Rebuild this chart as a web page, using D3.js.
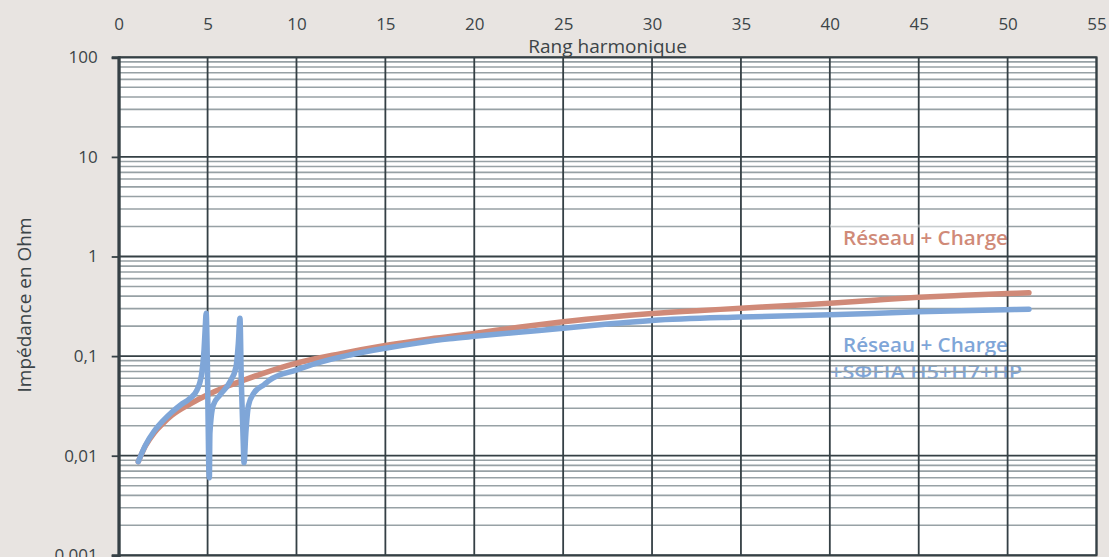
<!DOCTYPE html>
<html><head><meta charset="utf-8">
<script src="https://cdn.jsdelivr.net/npm/d3@7"></script>
<style>
body{margin:0;background:#e8e4e1;}
svg{display:block;}
text{font-family:"Open Sans",sans-serif;}
</style></head>
<body><svg id="c" width="1109" height="557"></svg>
<script>
// ---- data ----
const xTicks = [0,5,10,15,20,25,30,35,40,45,50,55];
const yTicks = [0.001,0.01,0.1,1,10,100];
const yTickLabels = ["0,001","0,01","0,1","1","10","100"];
const xTitle = "Rang harmonique";
const yTitle = "Impédance en Ohm";

// Réseau + Charge
const reseauH = [1.1,1.5,2,2.5,3,4,5,6,7,8,10,12.5,15,17.5,20,22.5,25,27.5,30,32.5,35,37.5,40,42.5,45,47.5,50,51.2];
const reseauZ = [0.0087,0.0125,0.017,0.0212,0.0255,0.033,0.041,0.049,0.057,0.066,0.085,0.106,0.128,0.149,0.169,0.195,0.221,0.246,0.268,0.286,0.302,0.321,0.339,0.364,0.389,0.408,0.425,0.433];

// Réseau + Charge + SΦFIA H5+H7+HP
const filtreH = [1.1,1.5,2,2.5,3,3.5,4,4.4,4.67,4.8,4.87,4.92,4.99,5.06,5.1,5.13,5.32,5.7,6.26,6.6,6.73,6.82,6.9,7.0,7.05,7.15,7.3,7.6,8.2,8.5,10,11.1,13,14.9,16.8,18.6,20,22.5,25,27.5,30,35,40,45,51.2];
const filtreZ = [0.0087,0.0127,0.0177,0.0225,0.0275,0.0325,0.0375,0.0455,0.0672,0.115,0.197,0.27,0.078,0.0088,0.006,0.0168,0.0322,0.0407,0.0552,0.078,0.1346,0.24,0.0535,0.0144,0.0085,0.0168,0.032,0.0425,0.052,0.0575,0.0725,0.0845,0.1025,0.119,0.135,0.149,0.158,0.174,0.19,0.21,0.228,0.247,0.26,0.278,0.295];

const labelReseau = "Réseau + Charge";
const labelFiltre1 = "Réseau + Charge";
const labelFiltre2 = "+SΦFIA H5+H7+HP";

// ---- layout ----
const svg = d3.select("#c");
const L = 118.7, R = 1096.5, T = 57.3, B = 555.3;
const x = d3.scaleLinear().domain([0,55]).range([L,R]);
const y = d3.scaleLog().domain([0.001,100]).range([B,T]);

const orange = "#d08a78", blue = "#7fa6d8";
const major = "#354045", minor = "#97a1a5", txt = "#3c4448";

svg.append("rect").attr("x",L).attr("y",T).attr("width",R-L).attr("height",B-T).attr("fill","#fff");

// labels (under the grid as in the reference)
function lab(t, xx, yy, col, len){
  svg.append("text").attr("x",xx).attr("y",yy).attr("fill",col).attr("font-weight",600)
    .attr("font-size",19).attr("textLength",len).attr("lengthAdjust","spacingAndGlyphs").text(t);
}
lab(labelReseau, 843, 245, orange, 165);
lab(labelFiltre1, 843, 352, blue, 165);
lab(labelFiltre2, 830, 379, blue, 192);

// minor horizontal grid
const minors = [];
for (let e=-3;e<2;e++) for (let k=2;k<10;k++) minors.push(k*Math.pow(10,e));
svg.append("g").selectAll("line").data(minors).join("line")
  .attr("x1",L).attr("x2",R).attr("y1",d=>y(d)).attr("y2",d=>y(d))
  .attr("stroke",minor).attr("stroke-width",1.6);
// major horizontal
svg.append("g").selectAll("line").data(yTicks).join("line")
  .attr("x1",L).attr("x2",R).attr("y1",d=>y(d)).attr("y2",d=>y(d))
  .attr("stroke",major).attr("stroke-width",1.8);
// vertical grid
svg.append("g").selectAll("line").data(xTicks).join("line")
  .attr("x1",d=>x(d)).attr("x2",d=>x(d)).attr("y1",T).attr("y2",B)
  .attr("stroke",major).attr("stroke-width",1.8);

// faint box edge above the orange label
svg.append("rect").attr("x",830).attr("y",224.5).attr("width",177).attr("height",3)
  .attr("fill","#fff").attr("opacity",0.45);

// border
svg.append("rect").attr("x",L).attr("y",T).attr("width",R-L).attr("height",B-T)
  .attr("fill","none").attr("stroke",major).attr("stroke-width",2);

// axes
const yAxis = d3.axisLeft(y).tickValues(yTicks).tickFormat((d,i)=>yTickLabels[i]).tickSize(7).tickPadding(14);
const gy = svg.append("g").attr("transform",`translate(${L},0)`).call(yAxis);
gy.select(".domain").attr("stroke",major).attr("stroke-width",3);
gy.selectAll(".tick line").attr("stroke",major).attr("stroke-width",1.8);
gy.selectAll("text").attr("font-size",17).attr("fill",txt).attr("font-family","'Open Sans',sans-serif");

const xAxis = d3.axisTop(x).tickValues(xTicks).tickSize(0).tickPadding(27);
const gx = svg.append("g").attr("transform",`translate(0,${T})`).call(xAxis);
gx.select(".domain").remove();
gx.selectAll("text").attr("font-size",17).attr("fill",txt).attr("font-family","'Open Sans',sans-serif");

svg.append("text").attr("x",x(27.5)).attr("y",53).attr("text-anchor","middle")
  .attr("font-size",19).attr("fill",txt).text(xTitle);
svg.append("text").attr("transform","translate(31,305) rotate(-90)").attr("text-anchor","middle")
  .attr("font-size",19).attr("fill",txt).text(yTitle);

// curves
const line = d3.line().curve(d3.curveMonotoneX).x(d=>x(d[0])).y(d=>y(d[1]));
svg.append("path").datum(reseauH.map((h,i)=>[h,reseauZ[i]])).attr("d",line)
  .attr("fill","none").attr("stroke",orange).attr("stroke-width",5.5).attr("stroke-linecap","round").attr("stroke-linejoin","round");
svg.append("path").datum(filtreH.map((h,i)=>[h,filtreZ[i]])).attr("d",line)
  .attr("fill","none").attr("stroke",blue).attr("stroke-width",5.5).attr("stroke-linecap","round").attr("stroke-linejoin","round");
</script></body></html>
